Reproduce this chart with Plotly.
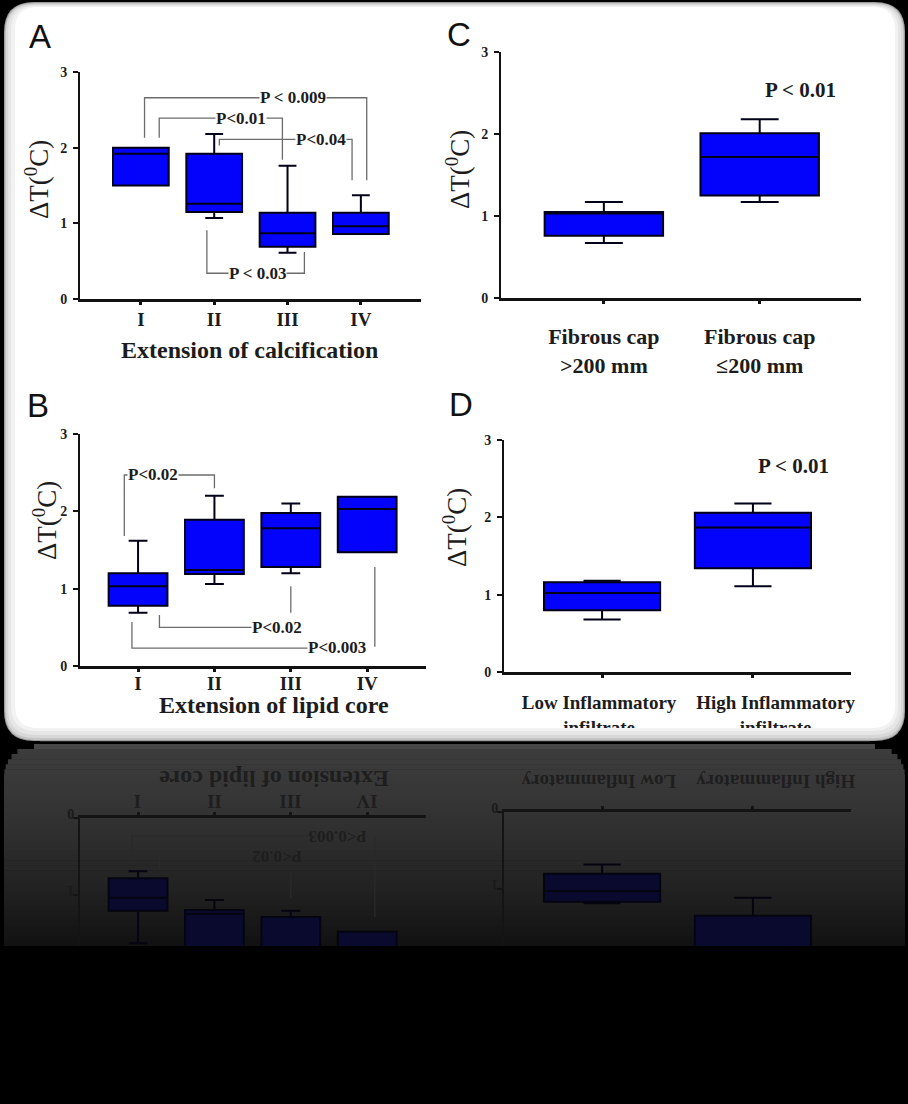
import math
import plotly.graph_objects as go

W, H = 908, 1104
SERIF = "Liberation Serif"
SANS = "Liberation Sans"

# ---------------- data ----------------
# Panel A : extension of calcification
a_labels = ["I", "II", "III", "IV"]
a_q1 = [1.50, 1.15, 0.69, 0.86]
a_med = [1.92, 1.26, 0.87, 0.96]
a_q3 = [2.00, 1.92, 1.14, 1.14]
a_lo = [1.50, 1.07, 0.61, 0.88]
a_hi = [2.00, 2.18, 1.76, 1.37]
a_brackets = [
    [(0.05, 2.13), (0.05, 2.66), (3.08, 2.66), (3.08, 1.57)],
    [(0.25, 2.13), (0.25, 2.39), (1.93, 2.39), (1.93, 1.84)],
    [(1.07, 2.03), (1.07, 2.11), (2.88, 2.11), (2.88, 1.57)],
    [(0.90, 0.91), (0.90, 0.34), (2.23, 0.34), (2.23, 0.62)],
]
a_ptext = ["P < 0.009", "P<0.01", "P<0.04", "P < 0.03"]
a_pxy = [(2.07, 2.66), (1.37, 2.39), (2.45, 2.11), (1.59, 0.34)]

# Panel B : extension of lipid core
b_labels = ["I", "II", "III", "IV"]
b_q1 = [0.78, 1.19, 1.28, 1.47]
b_med = [1.03, 1.24, 1.78, 2.03]
b_q3 = [1.20, 1.89, 1.98, 2.19]
b_lo = [0.69, 1.06, 1.20, 1.47]
b_hi = [1.62, 2.20, 2.10, 2.19]
b_brackets = [
    [(-0.18, 1.68), (-0.18, 2.47), (1.00, 2.47), (1.00, 2.30)],
    [(0.28, 0.66), (0.28, 0.50), (1.60, 0.50)],
    [(2.00, 1.03), (2.00, 0.69)],
    [(-0.08, 0.57), (-0.08, 0.23), (2.40, 0.23)],
    [(3.10, 1.28), (3.10, 0.25)],
]
b_ptext = ["P<0.02", "P<0.02", "P<0.003"]
b_pxy = [(0.20, 2.47), (1.82, 0.50), (2.61, 0.24)]

# Panel C : fibrous cap
c_labels = ["Fibrous cap<br>&gt;200 mm", "Fibrous cap<br>≤200 mm"]
c_q1 = [0.76, 1.25]
c_med = [1.03, 1.72]
c_q3 = [1.05, 2.01]
c_lo = [0.67, 1.17]
c_hi = [1.17, 2.18]
c_ptext = ["P < 0.01"]
c_pxy = [(1.26, 2.54)]

# Panel D : inflammatory infiltrate
d_labels = ["Low Inflammatory<br>infiltrate", "High Inflammatory<br>infiltrate"]
d_labels_reflect = ["Low Inflammatory", "High Inflammatory"]
d_label_pos = [-0.02, 1.15]   # label centres (category units); the high label sits right of its tick
d_q1 = [0.80, 1.34]
d_med = [1.02, 1.87]
d_q3 = [1.16, 2.06]
d_lo = [0.68, 1.11]
d_hi = [1.18, 2.18]
d_ptext = ["P < 0.01"]
d_pxy = [(1.27, 2.66)]

y_ticks = [0, 1, 2, 3]


# ---------------- helpers ----------------
def fx(px):
    return px / W


def fy(py):
    return 1 - py / H


def rrect_path(x0, y0, x1, y1, r):
    pts = [
        f"M{fx(x0 + r)},{fy(y0)}",
        f"L{fx(x1 - r)},{fy(y0)}",
        f"Q{fx(x1)},{fy(y0)} {fx(x1)},{fy(y0 + r)}",
        f"L{fx(x1)},{fy(y1 - r)}",
        f"Q{fx(x1)},{fy(y1)} {fx(x1 - r)},{fy(y1)}",
        f"L{fx(x0 + r)},{fy(y1)}",
        f"Q{fx(x0)},{fy(y1)} {fx(x0)},{fy(y1 - r)}",
        f"L{fx(x0)},{fy(y0 + r)}",
        f"Q{fx(x0)},{fy(y0)} {fx(x0 + r)},{fy(y0)}",
        "Z",
    ]
    return " ".join(pts)


fig = go.Figure()
shapes = []
annotations = []
layout_axes = {}

# ---------------- background frame ----------------
frame_layers = [
    (4, 2, 905, 741, 30, "#9c9c9c"),
    (5, 3, 904, 740, 29, "#c4c4c4"),
    (6, 4, 903, 738, 28, "#d8d8d8"),
    (8, 5, 901, 735, 27, "#e6e6e6"),
    (11, 6, 898, 731, 25, "#f2f2f2"),
    (15, 7, 895, 728, 23, "#ffffff"),
]
for x0, y0, x1, y1, r, col in frame_layers:
    shapes.append(dict(type="path", xref="paper", yref="paper", path=rrect_path(x0, y0, x1, y1, r),
                       fillcolor=col, line=dict(width=0), layer="below"))

# reflection background (gradient bands, rounded top corners)
ref_top, ref_bot, ref_r = 744, 946, 30
n_b = 40
for i in range(n_b):
    ya = ref_top + (ref_bot - ref_top) * i / n_b
    yb = ref_top + (ref_bot - ref_top) * (i + 1) / n_b + 0.6
    t = i / (n_b - 1)
    v = int(round(60 - 42 * t ** 1.4))
    d = ya - ref_top
    inset = 0.0
    if d < ref_r:
        inset = ref_r - math.sqrt(max(ref_r ** 2 - (ref_r - d) ** 2, 0))
    col = f"rgb({v},{v},{v})"
    if i == 0:
        col = "rgb(72,72,72)"
    shapes.append(dict(type="rect", xref="paper", yref="paper",
                       x0=fx(4 + inset), x1=fx(905 - inset), y0=fy(yb), y1=fy(ya),
                       fillcolor=col, line=dict(width=0), layer="below"))


# ---------------- panels ----------------
def axis_names(n):
    return ("xaxis" if n == 1 else f"xaxis{n}", "yaxis" if n == 1 else f"yaxis{n}",
            "x" if n == 1 else f"x{n}", "y" if n == 1 else f"y{n}")


def add_panel(n, labels, q1, med, q3, lo, hi, bwidth, xdom, ydom, xrange, xfont, xstand,
              brackets=None, ptext=None, pxy=None, pfont=16, reflected=False):
    xk, yk, xr, yr = axis_names(n)
    line_col = "#141414" if reflected else "#111111"
    txt_col = "#1a1a1a" if reflected else "#1c1c1c"
    fill = "rgb(10,10,46)" if reflected else "#0303fb"
    box_line = "rgb(5,5,18)" if reflected else "#000018"
    br_col = "#2a2a2a" if reflected else "#6c6c6c"
    xs = list(range(len(q1)))
    fig.add_trace(go.Box(x=xs, q1=q1, median=med, q3=q3, lowerfence=lo, upperfence=hi,
                         width=bwidth, whiskerwidth=0.32, fillcolor=fill,
                         marker=dict(color=box_line),
                         line=dict(color=box_line, width=2), boxpoints=False,
                         xaxis=xr, yaxis=yr, showlegend=False, hoverinfo="skip"))
    if brackets:
        bx, by = [], []
        for poly in brackets:
            for (px_, py_) in poly:
                bx.append(px_)
                by.append(py_)
            bx.append(None)
            by.append(None)
        fig.add_trace(go.Scatter(x=bx, y=by, mode="lines", line=dict(color=br_col, width=1.3),
                                 xaxis=xr, yaxis=yr, showlegend=False, hoverinfo="skip"))
    if ptext:
        for t, (px_, py_) in zip(ptext, pxy):
            if reflected and py_ > 1.4:
                continue  # falls in the cut-off part of the reflection
            ann = dict(x=px_, y=py_, xref=xr, yref=yr, text=t, showarrow=False,
                       font=dict(family=SERIF, size=pfont, color=txt_col, weight="bold"),
                       borderpad=0, xanchor="center", yanchor="middle")
            if reflected:
                ann["textangle"] = 180
                ann["font"]["color"] = "#1e1e1e"
            else:
                ann["bgcolor"] = "white"
            annotations.append(ann)
    yrange = [3, 0] if reflected else [0, 3]
    xa = dict(domain=[fx(xdom[0]), fx(xdom[1])], range=xrange, anchor=yr,
              showline=True, linecolor=line_col, linewidth=2.5,
              ticks="outside", ticklen=3, tickwidth=3, tickcolor=line_col,
              tickvals=xs,
              showgrid=False, zeroline=False, fixedrange=True, automargin=False,
              side="top" if reflected else "bottom")
    if labels:
        xa.update(ticktext=labels, showticklabels=True, ticklabelstandoff=xstand,
                  tickfont=dict(family=SERIF, size=xfont, color=txt_col, weight="bold"))
    else:
        xa.update(showticklabels=False)
    layout_axes[xk] = xa
    layout_axes[yk] = dict(domain=[fy(ydom[1]), fy(ydom[0])], range=yrange, anchor=xr,
                           showline=True, linecolor=line_col, linewidth=2,
                           ticks="outside", ticklen=5, tickwidth=2, tickcolor=line_col,
                           tickvals=y_ticks, ticktext=[str(v) for v in y_ticks],
                           tickfont=dict(family=SERIF, size=14, color=txt_col, weight="bold"),
                           showgrid=False, zeroline=False, fixedrange=True, automargin=False,
                           ticklabelstandoff=3,
                           tickangle=180 if reflected else 0)


add_panel(1, a_labels, a_q1, a_med, a_q3, a_lo, a_hi, 0.76, (80, 421), (72, 299),
          [-0.83, 3.82], 19, -2, a_brackets, a_ptext, a_pxy, 17)
add_panel(2, c_labels, c_q1, c_med, c_q3, c_lo, c_hi, 0.76, (501, 861), (52, 298),
          [-0.66, 1.65], 22, 14, None, c_ptext, c_pxy, 21)
add_panel(3, b_labels, b_q1, b_med, b_q3, b_lo, b_hi, 0.77, (80, 426), (434, 666),
          [-0.76, 3.77], 19, -5, b_brackets, b_ptext, b_pxy, 17)
add_panel(4, None, d_q1, d_med, d_q3, d_lo, d_hi, 0.77, (504, 851), (440, 672),
          [-0.65, 1.65], 19, 8, None, d_ptext, d_pxy, 21)
# D category labels on an overlaid axis (so they are clipped by the frame edge like the original)
layout_axes["xaxis7"] = dict(overlaying="x4", anchor="y4", side="bottom",
                             domain=layout_axes["xaxis4"]["domain"], range=[-0.65, 1.65],
                             showline=False, ticks="", tickvals=d_label_pos, ticktext=d_labels,
                             tickfont=dict(family=SERIF, size=19, color="#1c1c1c", weight="bold"),
                             showgrid=False, zeroline=False, fixedrange=True, automargin=False,
                             ticklabelstandoff=17)
fig.add_trace(go.Scatter(x=[None], y=[None], xaxis="x7", yaxis="y4", mode="lines",
                         showlegend=False, hoverinfo="skip"))

# reflections of the lower panels
add_panel(5, None, b_q1, b_med, b_q3, b_lo, b_hi, 0.77, (80, 426), (818, 1050),
          [-0.76, 3.77], 19, 0, b_brackets, b_ptext, b_pxy, 17, reflected=True)
add_panel(6, None, d_q1, d_med, d_q3, d_lo, d_hi, 0.77, (504, 851), (812, 1044),
          [-0.65, 1.65], 19, 0, None, None, None, 21, reflected=True)
# reflected tick labels drawn as rotated texts at the tick positions
for i, lab in enumerate(b_labels):
    annotations.append(dict(x=i, y=fy(801), xref="x5", yref="paper", text=lab, showarrow=False,
                            textangle=180, xanchor="center", yanchor="middle",
                            font=dict(family=SERIF, size=19, color="#1e1e1e", weight="bold")))
for xpos, lab in zip(d_label_pos, d_labels_reflect):
    annotations.append(dict(x=xpos, y=fy(782), xref="x6", yref="paper", text=lab, showarrow=False,
                            textangle=180, xanchor="center", yanchor="middle",
                            font=dict(family=SERIF, size=19, color="#1e1e1e", weight="bold")))


# ---------------- titles / labels ----------------
def paper_text(text, px, py, size, family=SERIF, bold=True, angle=0, color="#1c1c1c"):
    f = dict(family=family, size=size, color=color)
    if bold:
        f["weight"] = "bold"
    annotations.append(dict(x=fx(px), y=fy(py), xref="paper", yref="paper", text=text,
                            showarrow=False, font=f, textangle=angle,
                            xanchor="center", yanchor="middle"))


ylab = "ΔT(<sup>0</sup>C)"
paper_text(ylab, 37, 180, 27, bold=False, angle=-90)
paper_text(ylab, 458, 170, 27, bold=False, angle=-90)
paper_text(ylab, 45, 521, 27, bold=False, angle=-90)
paper_text(ylab, 455, 527, 27, bold=False, angle=-90)

paper_text("Extension of calcification", 250, 350, 24)
paper_text("Extension of lipid core", 274, 705, 24)
paper_text("Extension of lipid core", 274, 779, 24, angle=180, color="#1e1e1e")

paper_text("A", 40, 36, 33, family=SANS, bold=False, color="#111111")
paper_text("C", 459, 34, 33, family=SANS, bold=False, color="#111111")
paper_text("B", 38, 405, 33, family=SANS, bold=False, color="#111111")
paper_text("D", 461, 404, 33, family=SANS, bold=False, color="#111111")

# ---------------- above-layer: panel bottom edge (clips tick text) and fade cut ----------------
edge_bands = [(728, 731, "#f2f2f2"), (731, 735, "#e6e6e6"), (735, 738, "#d8d8d8"),
              (738, 740, "#c4c4c4"), (740, 741.3, "#9c9c9c")]
for ya, yb, col in edge_bands:
    shapes.append(dict(type="rect", xref="paper", yref="paper", x0=fx(40), x1=fx(870),
                       y0=fy(yb), y1=fy(ya), fillcolor=col, line=dict(width=0), layer="above"))
shapes.append(dict(type="rect", xref="paper", yref="paper", x0=0, x1=1,
                   y0=0, y1=fy(946), fillcolor="black", line=dict(width=0), layer="above"))

fig.update_layout(
    width=W, height=H,
    margin=dict(l=0, r=0, t=0, b=0, autoexpand=False),
    paper_bgcolor="black",
    plot_bgcolor="rgba(0,0,0,0)",
    shapes=shapes,
    annotations=annotations,
    showlegend=False,
    **layout_axes,
)

fig.write_html("out.html")
